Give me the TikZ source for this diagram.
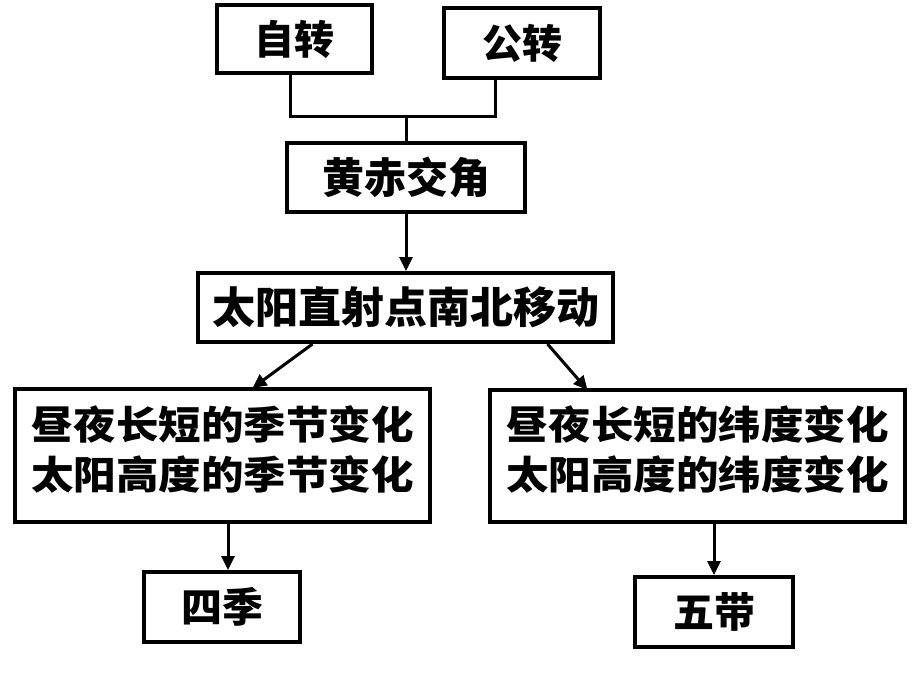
\documentclass[tikz,border=0pt]{standalone}
\usepackage{fontspec}
\newfontfamily\cjk{Noto Sans CJK SC}
\newfontfamily\cjkwide{Noto Sans CJK SC}[FakeStretch=1.09]
\usetikzlibrary{arrows.meta}
\tikzset{
  boxnode/.style={draw=black, line width=4pt, inner sep=0pt, fill=white},
  conn/.style={line width=3pt, draw=black},
  arrowline/.style={line width=3pt, draw=black, -{Triangle[length=14pt,width=13pt]}},
}
\begin{document}
\begin{tikzpicture}[x=1pt,y=-1pt]
\useasboundingbox[fill=white] (0,0) rectangle (920,690);
% boxes
\node[boxnode, minimum width=155pt, minimum height=68pt, font=\cjk\bfseries\fontsize{40}{48}\selectfont] (zz) at (294.5,39) {自转};
\node[boxnode, minimum width=156pt, minimum height=70pt, font=\cjk\bfseries\fontsize{40}{48}\selectfont] (gz) at (522,43) {公转};
\node[boxnode, minimum width=238pt, minimum height=69pt, font=\cjk\bfseries\fontsize{42}{50}\selectfont] (hc) at (406,177.5) {黄赤交角};
\node[boxnode, minimum width=415pt, minimum height=69pt, font=\cjk\bfseries\fontsize{43}{50}\selectfont] (ty) at (405.5,307.5) {太阳直射点南北移动};
\node[boxnode, minimum width=415pt, minimum height=133pt] (lbox) at (222.5,455.5) {};
\node[boxnode, minimum width=415pt, minimum height=132pt] (rbox) at (697.5,456) {};
\node[inner sep=0pt, align=center, font=\cjkwide\bfseries\fontsize{39}{50}\selectfont] (ltext) at (222.5,449) {昼夜长短的季节变化\\太阳高度的季节变化};
\node[inner sep=0pt, align=center, font=\cjkwide\bfseries\fontsize{39}{50}\selectfont] (rtext) at (697.5,449) {昼夜长短的纬度变化\\太阳高度的纬度变化};
\node[boxnode, minimum width=156pt, minimum height=70pt, font=\cjk\bfseries\fontsize{41}{48}\selectfont] (sj) at (222,607) {四季};
\node[boxnode, minimum width=158pt, minimum height=70pt, font=\cjk\bfseries\fontsize{41}{48}\selectfont] (wd) at (714,612) {五带};
% top connector
\coordinate (zl) at ([xshift=-4.5pt]zz.south);
\coordinate (gl) at ([xshift=-27pt]gz.south);
\coordinate (j) at (hc.north |- 0,117);
\draw[conn] (zl) -- (zl |- j) -- (gl |- j) -- (gl);
\draw[conn] (j) -- (hc.north);
% arrows
\draw[arrowline] (hc.south) -- (hc.south |- ty.north);
\draw[arrowline] ([xshift=-93pt]ty.south) -- ([xshift=30pt,yshift=-1pt]lbox.north);
\draw[arrowline] ([xshift=142pt]ty.south) -- ([xshift=-110pt,yshift=-2pt]rbox.north);
\coordinate (a1) at ([xshift=6pt]sj.north);
\draw[arrowline] (lbox.south -| a1) -- (a1);
\draw[arrowline] (rbox.south -| wd.north) -- (wd.north);
\end{tikzpicture}
\end{document}
